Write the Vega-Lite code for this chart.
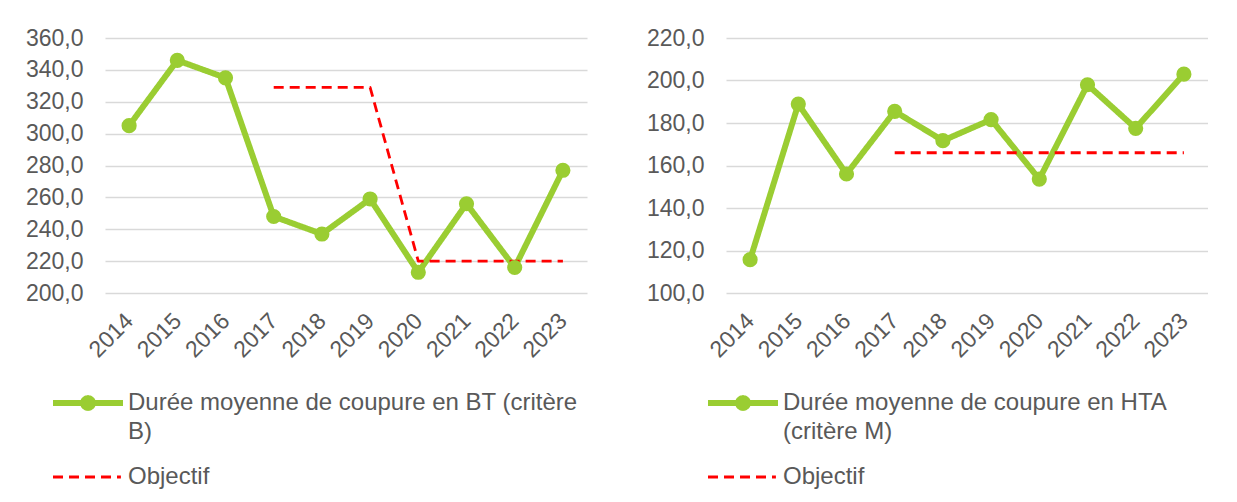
{
  "$schema": "https://vega.github.io/schema/vega-lite/v6.json",
  "background": "white",
  "padding": {"left": 25, "top": 27, "right": 0, "bottom": 0},
  "spacing": 139,
  "bounds": "flush",
  "resolve": {
    "scale": {"color": "independent", "strokeDash": "independent", "strokeWidth": "independent", "x": "independent", "y": "independent"},
    "legend": {"color": "independent"}
  },
  "config": {
    "font": "Liberation Sans",
    "view": {"stroke": null},
    "axis": {"labelFont": "Liberation Sans", "labelColor": "#595959", "labelFontSize": 23, "domain": false, "ticks": false, "tickSize": 0, "gridColor": "#d9d9d9", "gridWidth": 1.3, "title": null},
    "legend": {"labelFont": "Liberation Sans", "labelColor": "#595959", "labelFontSize": 24, "padding": 0, "title": null, "orient": "none", "direction": "vertical", "symbolSize": 4900, "labelOffset": 2, "labelLimit": 600}
  },
  "hconcat": [
    {
      "width": 482,
      "height": 255,
      "data": {"values": [
        {"year": "2014", "value": 305, "series": "Durée moyenne de coupure en BT (critère B)"},
        {"year": "2015", "value": 346, "series": "Durée moyenne de coupure en BT (critère B)"},
        {"year": "2016", "value": 335, "series": "Durée moyenne de coupure en BT (critère B)"},
        {"year": "2017", "value": 248, "series": "Durée moyenne de coupure en BT (critère B)"},
        {"year": "2018", "value": 237, "series": "Durée moyenne de coupure en BT (critère B)"},
        {"year": "2019", "value": 259, "series": "Durée moyenne de coupure en BT (critère B)"},
        {"year": "2020", "value": 213, "series": "Durée moyenne de coupure en BT (critère B)"},
        {"year": "2021", "value": 256, "series": "Durée moyenne de coupure en BT (critère B)"},
        {"year": "2022", "value": 216, "series": "Durée moyenne de coupure en BT (critère B)"},
        {"year": "2023", "value": 277, "series": "Durée moyenne de coupure en BT (critère B)"},
        {"year": "2017", "value": 329, "series": "Objectif"},
        {"year": "2018", "value": 329, "series": "Objectif"},
        {"year": "2019", "value": 329, "series": "Objectif"},
        {"year": "2020", "value": 220, "series": "Objectif"},
        {"year": "2021", "value": 220, "series": "Objectif"},
        {"year": "2022", "value": 220, "series": "Objectif"},
        {"year": "2023", "value": 220, "series": "Objectif"}
      ]},
      "encoding": {
        "x": {"field": "year", "type": "ordinal", "sort": null, "scale": {"type": "point", "padding": 0.5},
              "axis": {"labelAngle": -45, "labelAlign": "right", "labelBaseline": "middle", "labelPadding": 24, "grid": false}},
        "y": {"field": "value", "type": "quantitative", "scale": {"domain": [200, 360], "nice": false, "zero": false},
              "axis": {"values": [200, 220, 240, 260, 280, 300, 320, 340, 360], "labelPadding": 22, "labelExpr": "replace(format(datum.value, '.1f'), '.', ',')", "grid": true}}
      },
      "layer": [
        {
          "mark": {"type": "line", "strokeJoin": "round", "strokeCap": "butt"},
          "encoding": {
            "color": {"field": "series", "type": "nominal",
              "scale": {"domain": ["Durée moyenne de coupure en BT (critère B)", "Objectif"], "range": ["#9ACD32", "#ff0000"]},
              "legend": {"legendX": -55, "legendY": 327,
                "labelExpr": "datum.label == 'Objectif' ? 'Objectif' : ['Durée moyenne de coupure en BT (critère', 'B)']",
                "encode": {
                  "symbols": {"update": {
                    "shape": [{"test": "datum.value === 'Objectif'", "value": "M-1,0H0.94"}, {"value": "M-1,0H1M-0.14,0A0.14,0.14,0,1,1,0.14,0A0.14,0.14,0,1,1,-0.14,0"}],
                    "strokeDash": [{"test": "datum.value === 'Objectif'", "value": [10, 7]}, {"value": []}],
                    "strokeWidth": [{"test": "datum.value === 'Objectif'", "value": 3}, {"value": 6}],
                    "fill": [{"test": "datum.value === 'Objectif'", "value": "transparent"}, {"value": "#9ACD32"}],
                    "size": {"value": 4900},
                    "y": [{"test": "datum.value === 'Objectif'", "value": 31}, {"value": 38}]
                  }},
                  "labels": {"update": {
                    "lineHeight": {"value": 29},
                    "y": [{"test": "datum.value === 'Objectif'", "value": 31}, {"value": 38}]
                  }}
                }}},
            "strokeDash": {"field": "series", "type": "nominal", "scale": {"domain": ["Durée moyenne de coupure en BT (critère B)", "Objectif"], "range": [[1, 0], [10, 6]]}, "legend": null},
            "strokeWidth": {"field": "series", "type": "nominal", "scale": {"domain": ["Durée moyenne de coupure en BT (critère B)", "Objectif"], "range": [6, 2.8]}, "legend": null}
          }
        },
        {
          "transform": [{"filter": "datum.series !== 'Objectif'"}],
          "mark": {"type": "point", "filled": true, "opacity": 1, "size": 230, "color": "#9ACD32"},
          "encoding": {}
        }
      ]
    },
    {
      "width": 482,
      "height": 255,
      "data": {"values": [
        {"year": "2014", "value": 115.7, "series": "Durée moyenne de coupure en HTA (critère M)"},
        {"year": "2015", "value": 188.9, "series": "Durée moyenne de coupure en HTA (critère M)"},
        {"year": "2016", "value": 156, "series": "Durée moyenne de coupure en HTA (critère M)"},
        {"year": "2017", "value": 185.5, "series": "Durée moyenne de coupure en HTA (critère M)"},
        {"year": "2018", "value": 171.7, "series": "Durée moyenne de coupure en HTA (critère M)"},
        {"year": "2019", "value": 181.6, "series": "Durée moyenne de coupure en HTA (critère M)"},
        {"year": "2020", "value": 153.6, "series": "Durée moyenne de coupure en HTA (critère M)"},
        {"year": "2021", "value": 198, "series": "Durée moyenne de coupure en HTA (critère M)"},
        {"year": "2022", "value": 177.5, "series": "Durée moyenne de coupure en HTA (critère M)"},
        {"year": "2023", "value": 203, "series": "Durée moyenne de coupure en HTA (critère M)"},
        {"year": "2017", "value": 166, "series": "Objectif"},
        {"year": "2018", "value": 166, "series": "Objectif"},
        {"year": "2019", "value": 166, "series": "Objectif"},
        {"year": "2020", "value": 166, "series": "Objectif"},
        {"year": "2021", "value": 166, "series": "Objectif"},
        {"year": "2022", "value": 166, "series": "Objectif"},
        {"year": "2023", "value": 166, "series": "Objectif"}
      ]},
      "encoding": {
        "x": {"field": "year", "type": "ordinal", "sort": null, "scale": {"type": "point", "padding": 0.5},
              "axis": {"labelAngle": -45, "labelAlign": "right", "labelBaseline": "middle", "labelPadding": 24, "grid": false}},
        "y": {"field": "value", "type": "quantitative", "scale": {"domain": [100, 220], "nice": false, "zero": false},
              "axis": {"values": [100, 120, 140, 160, 180, 200, 220], "labelPadding": 22, "labelExpr": "replace(format(datum.value, '.1f'), '.', ',')", "grid": true}}
      },
      "layer": [
        {
          "mark": {"type": "line", "strokeJoin": "round", "strokeCap": "butt"},
          "encoding": {
            "color": {"field": "series", "type": "nominal",
              "scale": {"domain": ["Durée moyenne de coupure en HTA (critère M)", "Objectif"], "range": ["#9ACD32", "#ff0000"]},
              "legend": {"legendX": -21, "legendY": 327,
                "labelExpr": "datum.label == 'Objectif' ? 'Objectif' : ['Durée moyenne de coupure en HTA', '(critère M)']",
                "encode": {
                  "symbols": {"update": {
                    "shape": [{"test": "datum.value === 'Objectif'", "value": "M-1,0H0.94"}, {"value": "M-1,0H1M-0.14,0A0.14,0.14,0,1,1,0.14,0A0.14,0.14,0,1,1,-0.14,0"}],
                    "strokeDash": [{"test": "datum.value === 'Objectif'", "value": [10, 7]}, {"value": []}],
                    "strokeWidth": [{"test": "datum.value === 'Objectif'", "value": 3}, {"value": 6}],
                    "fill": [{"test": "datum.value === 'Objectif'", "value": "transparent"}, {"value": "#9ACD32"}],
                    "size": {"value": 4900},
                    "y": [{"test": "datum.value === 'Objectif'", "value": 31}, {"value": 38}]
                  }},
                  "labels": {"update": {
                    "lineHeight": {"value": 29},
                    "y": [{"test": "datum.value === 'Objectif'", "value": 31}, {"value": 38}]
                  }}
                }}},
            "strokeDash": {"field": "series", "type": "nominal", "scale": {"domain": ["Durée moyenne de coupure en HTA (critère M)", "Objectif"], "range": [[1, 0], [10, 6]]}, "legend": null},
            "strokeWidth": {"field": "series", "type": "nominal", "scale": {"domain": ["Durée moyenne de coupure en HTA (critère M)", "Objectif"], "range": [6, 2.8]}, "legend": null}
          }
        },
        {
          "transform": [{"filter": "datum.series !== 'Objectif'"}],
          "mark": {"type": "point", "filled": true, "opacity": 1, "size": 230, "color": "#9ACD32"},
          "encoding": {}
        }
      ]
    }
  ]
}
